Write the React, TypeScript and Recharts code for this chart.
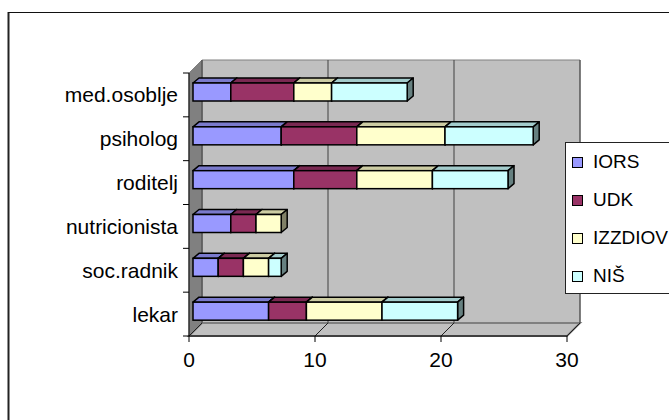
import React from "react";
import { BarChart, Bar, XAxis, YAxis, CartesianGrid } from "recharts";

// categories listed top to bottom, as they appear in the chart
const categories = [
  "med.osoblje",
  "psiholog",
  "roditelj",
  "nutricionista",
  "soc.radnik",
  "lekar",
];
const iors = [3, 7, 8, 3, 2, 6];
const udk = [5, 6, 5, 2, 2, 3];
const izzdiov = [3, 7, 6, 2, 2, 6];
const nis = [6, 7, 6, 0, 1, 6];
const xTicks = [0, 10, 20, 30];

const series = [
  { key: "IORS", name: "IORS", fill: "#9999FF", top: "#7A7ACC", side: "#4C4C80" },
  { key: "UDK", name: "UDK", fill: "#993366", top: "#7A2952", side: "#4C1933" },
  { key: "IZZDIOV", name: "IZZDIOV", fill: "#FFFFCC", top: "#CCCCA3", side: "#808066" },
  { key: "NIS", name: "NIŠ", fill: "#CCFFFF", top: "#A3CCCC", side: "#668080" },
];

const data = categories.map((name, i) => ({
  name,
  IORS: iors[i],
  UDK: udk[i],
  IZZDIOV: izzdiov[i],
  NIS: nis[i],
}));

const W = 669;
const H = 420;
const PLOT_LEFT = 189;
const PLOT_RIGHT = 567;
const PLOT_TOP = 73;
const PLOT_BOTTOM = 336;
// depth of the 3d box (walls) and of the bars
const DX = 13;
const DY = 13;
const BAR_OX = 4;
const BAR_OY = -3;
const BAR_DX = 6;
const BAR_DY = 5;

const FONT = '"Liberation Sans", Arial, sans-serif';

function Box3D(props: any) {
  const { x, y, width, height, fill, top, side } = props;
  if (!width || width <= 0) return null;
  const fx = x + BAR_OX;
  const fy = y + BAR_OY;
  const topPts = [
    [fx, fy],
    [fx + BAR_DX, fy - BAR_DY],
    [fx + width + BAR_DX, fy - BAR_DY],
    [fx + width, fy],
  ]
    .map((p) => p.join(","))
    .join(" ");
  const sidePts = [
    [fx + width, fy],
    [fx + width + BAR_DX, fy - BAR_DY],
    [fx + width + BAR_DX, fy + height - BAR_DY],
    [fx + width, fy + height],
  ]
    .map((p) => p.join(","))
    .join(" ");
  return (
    <g>
      <polygon points={topPts} fill={top} stroke="#000" strokeWidth={1.5} strokeLinejoin="round" />
      <polygon points={sidePts} fill={side} stroke="#000" strokeWidth={1.5} strokeLinejoin="round" />
      <rect x={fx} y={fy} width={width} height={height} fill={fill} stroke="#000" strokeWidth={1.5} />
    </g>
  );
}

function CategoryTick(props: any) {
  const { x, y, payload, index } = props;
  const band = (PLOT_BOTTOM - PLOT_TOP) / categories.length;
  return (
    <g>
      <line x1={PLOT_LEFT - 6} x2={PLOT_LEFT} y1={y - band / 2} y2={y - band / 2} stroke="#000" />
      {index === categories.length - 1 && (
        <line x1={PLOT_LEFT - 6} x2={PLOT_LEFT} y1={y + band / 2} y2={y + band / 2} stroke="#000" />
      )}
      <text x={x} y={y} dy="0.355em" textAnchor="end" fontSize={21} fontFamily={FONT} fill="#000">
        {payload.value}
      </text>
    </g>
  );
}

function gridLine(p: any) {
  const { x1, y1, y2, key } = p;
  return (
    <g key={key}>
      <line x1={x1 + DX} y1={y1 - DY} x2={x1 + DX} y2={y2 - DY} stroke="#404040" strokeWidth={1} />
      <line x1={x1} y1={y2} x2={x1 + DX} y2={y2 - DY} stroke="#202020" strokeWidth={1} />
    </g>
  );
}

function Walls() {
  const bl = PLOT_LEFT + DX;
  const br = PLOT_RIGHT + DX;
  const bt = PLOT_TOP - DY;
  const bb = PLOT_BOTTOM - DY;
  return (
    <svg width={W} height={H} style={{ position: "absolute", left: 0, top: 0 }}>
      <rect x={0} y={0} width={W} height={H} fill="#fff" />
      <line x1={8.5} y1={12} x2={8.5} y2={H} stroke="#222" strokeWidth={2} />
      <line x1={8} y1={12.5} x2={W} y2={12.5} stroke="#111" strokeWidth={1.2} />
      <polygon points={`${bl},${bt} ${br},${bt} ${br},${bb} ${bl},${bb}`} fill="#C0C0C0" stroke="#808080" />
      <polygon
        points={`${PLOT_LEFT},${PLOT_TOP} ${bl},${bt} ${bl},${bb} ${PLOT_LEFT},${PLOT_BOTTOM}`}
        fill="#808080"
        stroke="#808080"
      />
      <polygon
        points={`${PLOT_LEFT},${PLOT_BOTTOM} ${bl},${bb} ${br},${bb} ${PLOT_RIGHT},${PLOT_BOTTOM}`}
        fill="#C0C0C0"
        stroke="#808080"
        strokeWidth={2}
      />
    </svg>
  );
}

function Legend3D() {
  return (
    <div
      style={{
        position: "absolute",
        left: 565,
        top: 142,
        width: 140,
        height: 150,
        background: "#fff",
        border: "1px solid #222",
        fontFamily: FONT,
        fontSize: 19,
      }}
    >
      {series.map((s, i) => (
        <div
          key={s.key}
          style={{ position: "absolute", left: 6, top: 9 + i * 38, height: 20, display: "flex", alignItems: "center" }}
        >
          <div style={{ width: 9, height: 9, background: s.fill, border: "1.5px solid #000" }} />
          <span style={{ marginLeft: 10, color: "#000", whiteSpace: "nowrap" }}>{s.name}</span>
        </div>
      ))}
    </div>
  );
}

export default function App() {
  return (
    <div style={{ position: "absolute", left: 0, top: 0, width: W, height: H, overflow: "hidden" }}>
      <Walls />
      <div style={{ position: "absolute", left: 0, top: 0 }}>
        <BarChart
          width={W}
          height={H}
          data={data}
          layout="vertical"
          margin={{ top: PLOT_TOP, right: W - PLOT_RIGHT, bottom: H - PLOT_BOTTOM - 30, left: PLOT_LEFT - 170 }}
          barSize={18}
        >
          <CartesianGrid horizontal={false} vertical={gridLine} />
          <XAxis
            type="number"
            domain={[0, 30]}
            ticks={xTicks}
            height={30}
            tickSize={6}
            tickMargin={10}
            axisLine={{ stroke: "#000" }}
            tickLine={{ stroke: "#000" }}
            tick={{ fontSize: 21, fontFamily: FONT, fill: "#000" }}
          />
          <YAxis
            type="category"
            dataKey="name"
            width={170}
            tickSize={6}
            tickMargin={5}
            tickLine={false}
            axisLine={{ stroke: "#000" }}
            tick={<CategoryTick />}
            interval={0}
          />
          {series.map((s) => (
            <Bar
              key={s.key}
              dataKey={s.key}
              name={s.name}
              stackId="a"
              fill={s.fill}
              isAnimationActive={false}
              shape={(p: any) => <Box3D {...p} top={s.top} side={s.side} />}
            />
          ))}
        </BarChart>
      </div>
      <Legend3D />
    </div>
  );
}
